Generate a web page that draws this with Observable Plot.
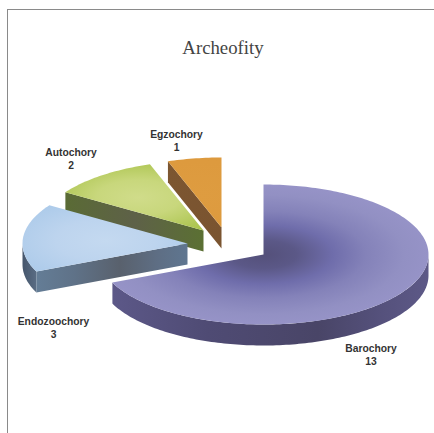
<!DOCTYPE html>
<html>
<head>
<meta charset="utf-8">
<style>
  html, body { margin: 0; padding: 0; background: #fff; }
  svg { display: block; }
</style>
<script src="https://cdn.jsdelivr.net/npm/d3@7"></script>
<script src="https://cdn.jsdelivr.net/npm/@observablehq/plot@0.6"></script>
</head>
<body>
<script>
// Dispersal modes of archeophytes, clockwise from twelve o'clock
const categories = ["Barochory", "Endozoochory", "Autochory", "Egzochory"];
const counts = [13, 3, 2, 1];
const chartTitle = "Archeofity";

// Exploded tilted pie: each slice has its own hub
const hubsX = [263, 187, 203, 221];
const hubsY = [254, 243, 230, 227];
const radiusX = 165;
const radiusY = 70;
const depth = 21;

// Label block centres
const labelX = [370.5, 53, 70.5, 176];
const labelY = [354, 326.5, 158, 140];

const total = d3.sum(counts);
const turn = d3.cumsum([0, ...counts]).map((c) => (c / total) * 2 * Math.PI);

const rimPoint = (i, a, drop = 0) => ({
  x: hubsX[i] + radiusX * Math.sin(a),
  y: hubsY[i] - radiusY * Math.cos(a) + drop
});
const arc = (i, a0, a1, drop = 0) => {
  const n = Math.max(2, Math.ceil(Math.abs(a1 - a0) / 0.02));
  return d3.range(n + 1).map((k) => rimPoint(i, a0 + ((a1 - a0) * k) / n, drop));
};
const hub = (i, drop = 0) => ({ x: hubsX[i], y: hubsY[i] + drop });

// Top face of a slice
const topFace = (i) => [hub(i), ...arc(i, turn[i], turn[i + 1])];
// Flat cut face running from the hub to the start of the slice
const cutFace = (i) => [
  hub(i),
  rimPoint(i, turn[i]),
  rimPoint(i, turn[i], depth),
  hub(i, depth)
];
// Curved outer wall between two angles
const rimWall = (i, a0, a1) => [
  ...arc(i, a0, a1),
  ...arc(i, a1, a0, depth)
];

const face = (points, id) =>
  Plot.line(points, {
    x: "x",
    y: "y",
    curve: "linear-closed",
    fill: `url(#${id})`,
    stroke: "none"
  });

// Paint servers used by the slice faces
const radial = (id, cx, cy, sx, sy, stops) => ({ kind: "radial", id, cx, cy, sx, sy, stops });
const linear = (id, x1, x2, stops) => ({ kind: "linear", id, x1, x2, stops });
const paints = [
  radial("top-baro", 263, 254, 165, 70, [[0, "#54507a"], [0.2, "#5b5887"], [0.42, "#6f6dab"], [0.62, "#8482b9"], [0.85, "#9290c3"], [1, "#9693c7"]]),
  radial("top-endo", 105, 240, 165, 70, [[0, "#c4d9f0"], [0.3, "#bdd4ee"], [0.6, "#adcbea"], [1, "#a8c8e8"]]),
  radial("top-auto", 138, 197, 120, 50, [[0, "#d0dc8a"], [0.35, "#c8d77c"], [0.7, "#b0c756"], [1, "#a6c042"]]),
  radial("top-egzo", 195, 195, 165, 70, [[0, "#de9c40"], [1, "#dc983c"]]),
  linear("wall-baro", 112, 428, [[0, "#5c5888"], [0.3, "#4f4b74"], [0.65, "#494567"], [0.85, "#55517c"], [1, "#5d5987"]]),
  linear("wall-endo", 36, 187, [[0, "#647d96"], [0.25, "#5f7288"], [0.55, "#59616d"], [0.8, "#5e6e84"], [1, "#5f7690"]]),
  linear("rim-endo", 22, 36, [[0, "#46566c"], [1, "#5a6d84"]]),
  linear("wall-auto", 65, 203, [[0, "#5a6b35"], [0.5, "#5e6148"], [1, "#5b7033"]]),
  linear("wall-egzo", 167, 221, [[0, "#7c5631"], [1, "#7a5430"]])
];

function paintDefs(index, { x, y }) {
  const g = d3.create("svg:g");
  const defs = g.append("defs");
  for (const p of paints) {
    let grad;
    if (p.kind === "radial") {
      grad = defs.append("radialGradient")
        .attr("id", p.id)
        .attr("gradientUnits", "userSpaceOnUse")
        .attr("cx", 0).attr("cy", 0).attr("r", 1)
        .attr("gradientTransform",
          `translate(${x(p.cx)} ${y(p.cy)}) scale(${p.sx} ${p.sy})`);
    } else {
      grad = defs.append("linearGradient")
        .attr("id", p.id)
        .attr("gradientUnits", "userSpaceOnUse")
        .attr("x1", x(p.x1)).attr("x2", x(p.x2))
        .attr("y1", 0).attr("y2", 0);
    }
    for (const [offset, color] of p.stops) {
      grad.append("stop").attr("offset", offset).attr("stop-color", color);
    }
  }
  return g.node();
}

const labels = categories.map((name, i) => ({
  text: `${name}\n${counts[i]}`,
  x: labelX[i],
  y: labelY[i]
}));

const chart = Plot.plot({
  width: 434,
  height: 433,
  margin: 0,
  style: { background: "#fff" },
  x: { domain: [0, 434], range: [0, 434], axis: null },
  y: { domain: [0, 433], range: [0, 433], axis: null },
  marks: [
    paintDefs,
    // Page frame
    Plot.ruleX([7], { y1: 9, y2: 433, stroke: "#8a8a8a", strokeWidth: 1 }),
    Plot.ruleY([9], { x1: 7, x2: 434, stroke: "#8a8a8a", strokeWidth: 1 }),

    // Back to front: Egzochory, Autochory, Endozoochory, Barochory
    face(cutFace(3), "wall-egzo"),
    face(topFace(3), "top-egzo"),

    face(cutFace(2), "wall-auto"),
    face(topFace(2), "top-auto"),

    face(rimWall(1, turn[1], 1.5 * Math.PI), "rim-endo"),
    face(cutFace(1), "wall-endo"),
    face(topFace(1), "top-endo"),

    face(rimWall(0, 0.5 * Math.PI, turn[1]), "wall-baro"),
    face(topFace(0), "top-baro"),

    Plot.text([chartTitle], {
      x: 222.5,
      y: 47,
      text: (d) => d,
      fontFamily: "Liberation Serif",
      fontSize: 18.8,
      fill: "#444"
    }),
    Plot.text(labels, {
      x: "x",
      y: "y",
      text: "text",
      fontFamily: "Liberation Sans",
      fontWeight: "bold",
      fontSize: 10.3,
      lineHeight: 1.26,
      fill: "#333"
    })
  ]
});
document.body.appendChild(chart);
</script>
</body>
</html>
